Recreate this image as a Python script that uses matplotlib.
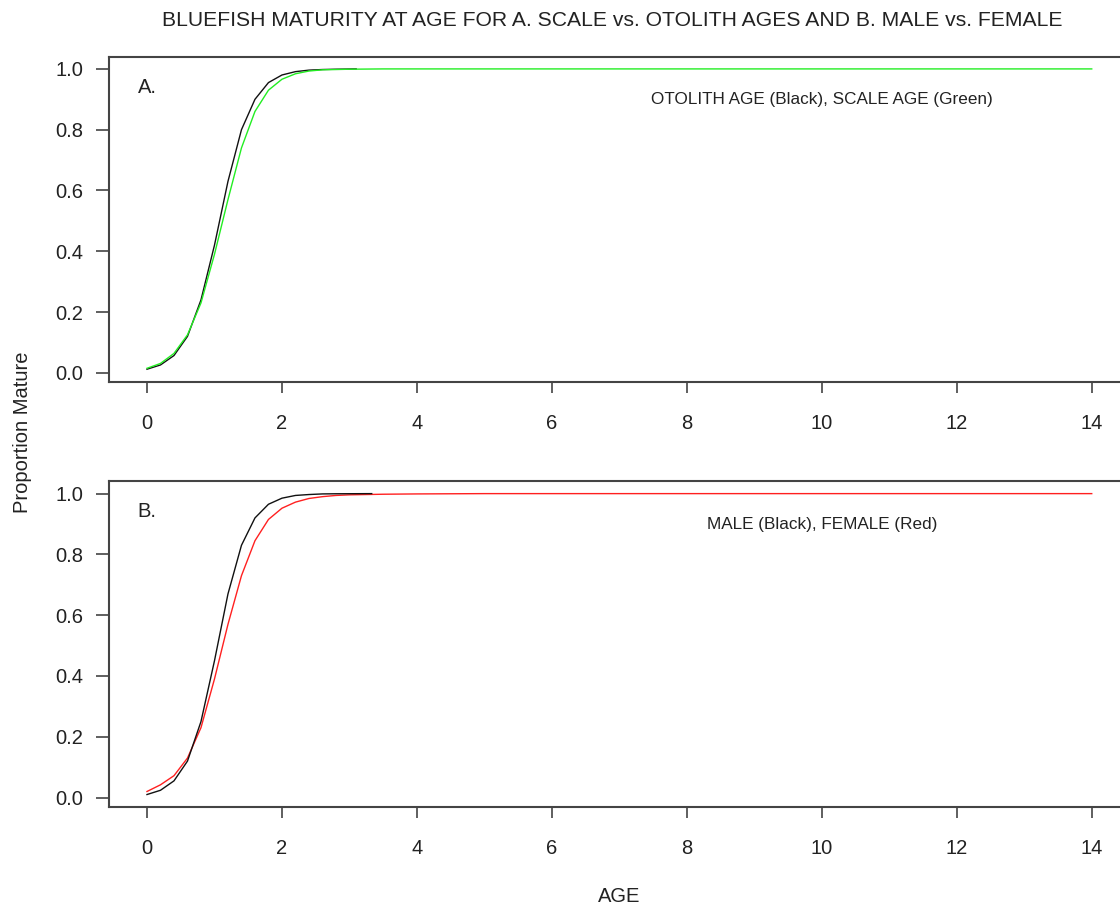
import numpy as np
import matplotlib
matplotlib.use("Agg")
import matplotlib.pyplot as plt

plt.rcParams['font.family'] = ['Liberation Sans', 'DejaVu Sans']

# panel A: otolith ages (black) vs scale ages (green)
age_oto = [0.0, 0.2, 0.4, 0.6, 0.8, 1.0, 1.2, 1.4, 1.6, 1.8, 2.0, 2.2, 2.4, 2.6, 2.8, 3.1]
mat_oto = [0.012, 0.026, 0.057, 0.12, 0.24, 0.42, 0.63, 0.80, 0.90, 0.955, 0.980, 0.991, 0.996, 0.998, 0.999, 1.0]
age_scale = [0.0, 0.2, 0.4, 0.6, 0.8, 1.0, 1.2, 1.4, 1.6, 1.8, 2.0, 2.2, 2.4, 2.6, 2.8, 3.0, 3.5, 4.0, 14.0]
mat_scale = [0.015, 0.031, 0.064, 0.125, 0.23, 0.39, 0.57, 0.74, 0.86, 0.93, 0.966, 0.984, 0.993, 0.997, 0.998, 0.999, 1.0, 1.0, 1.0]

# panel B: male (black) vs female (red)
age_male = [0.0, 0.2, 0.4, 0.6, 0.8, 1.0, 1.2, 1.4, 1.6, 1.8, 2.0, 2.2, 2.4, 2.6, 2.8, 3.33]
mat_male = [0.010, 0.024, 0.055, 0.12, 0.25, 0.45, 0.67, 0.83, 0.92, 0.965, 0.985, 0.994, 0.997, 0.999, 0.9995, 1.0]
age_fem = [0.0, 0.2, 0.4, 0.6, 0.8, 1.0, 1.2, 1.4, 1.6, 1.8, 2.0, 2.2, 2.4, 2.6, 2.8, 3.0, 3.5, 4.0, 5.0, 14.0]
mat_fem = [0.020, 0.042, 0.072, 0.13, 0.23, 0.39, 0.57, 0.73, 0.845, 0.915, 0.952, 0.972, 0.984, 0.990, 0.994, 0.996, 0.998, 0.999, 1.0, 1.0]

xticks = [0, 2, 4, 6, 8, 10, 12, 14]
yticks = [0.0, 0.2, 0.4, 0.6, 0.8, 1.0]

fig = plt.figure(figsize=(11.2, 9.11), dpi=100)
axA = fig.add_axes([0.0975, 0.5807, 0.911, 0.357])
axB = fig.add_axes([0.0975, 0.1145, 0.911, 0.357])

def style(ax):
    ax.set_xlim(-0.56, 14.56)
    ax.set_ylim(-0.03, 1.04)
    ax.set_xticks(xticks)
    ax.set_yticks(yticks)
    ax.set_yticklabels(['%.1f' % v for v in yticks])
    for s in ax.spines.values():
        s.set_color('#444444')
        s.set_linewidth(1.5)
    ax.tick_params(axis='x', direction='out', length=8, width=1.2, color='#444444',
                   labelsize=14.5, pad=15, labelcolor='#222222')
    ax.tick_params(axis='y', direction='out', length=9.5, width=1.2, color='#444444',
                   labelsize=14.5, pad=9, labelcolor='#222222')

axA.plot(age_oto, mat_oto, color='#111111', lw=1.0)
axA.plot(age_scale, mat_scale, color='#22ee22', lw=1.0)
style(axA)
axA.text(0, 0.94, 'A.', ha='center', va='center', fontsize=14.5, color='#222222')
axA.text(10, 0.9, 'OTOLITH AGE (Black), SCALE AGE (Green)', ha='center', va='center',
         fontsize=12.3, color='#222222')

axB.plot(age_fem, mat_fem, color='#ff2020', lw=1.0)
axB.plot(age_male, mat_male, color='#111111', lw=1.0)
style(axB)
axB.text(0, 0.94, 'B.', ha='center', va='center', fontsize=14.5, color='#222222')
axB.text(10, 0.9, 'MALE (Black), FEMALE (Red)', ha='center', va='center',
         fontsize=12.3, color='#222222')

fig.text(612 / 1120, 1 - 20 / 911, 'BLUEFISH MATURITY AT AGE FOR A. SCALE vs. OTOLITH AGES AND B. MALE vs. FEMALE',
         ha='center', va='center', fontsize=15.2, color='#222222')
fig.text(23 / 1120, 1 - 432 / 911, 'Proportion Mature', rotation=90, ha='center', va='center',
         fontsize=14.5, color='#222222')
fig.text(619 / 1120, 1 - 896 / 911, 'AGE', ha='center', va='center', fontsize=14.5, color='#222222')

fig.savefig('out.png', dpi=100)
